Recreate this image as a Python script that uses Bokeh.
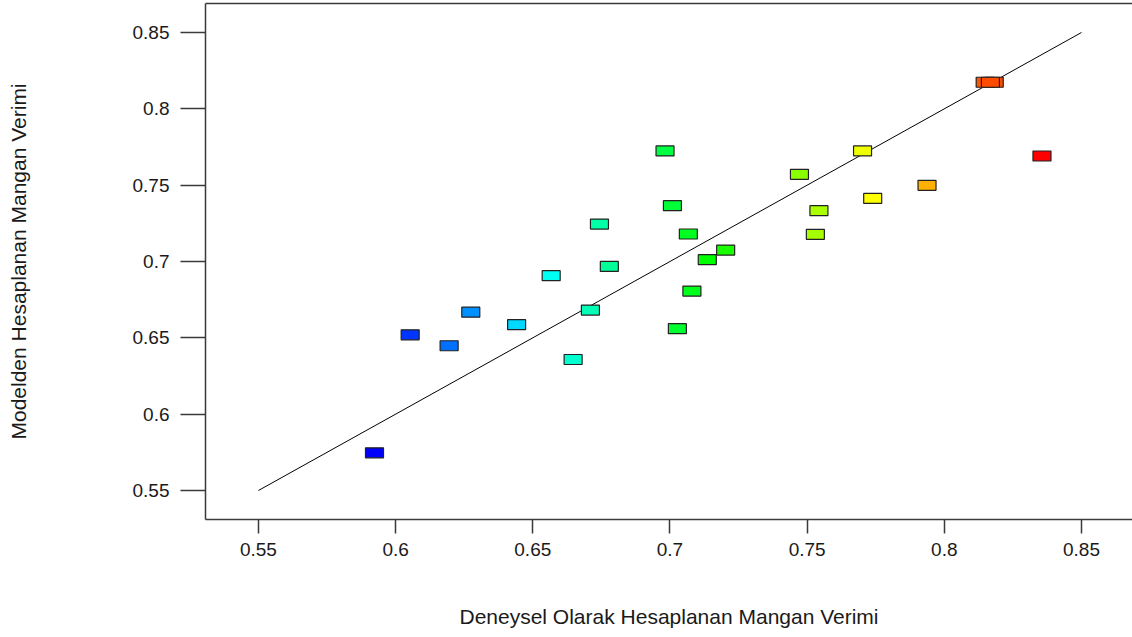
import numpy as np
from bokeh.plotting import figure
from bokeh.models import ColumnDataSource, FixedTicker, LinearAxis, Range1d
from bokeh.transform import linear_cmap
from bokeh.embed import file_html
from bokeh.resources import INLINE

# Data: actual (experimental) vs predicted (model) manganese yield
actual = [0.5923, 0.6053, 0.6195, 0.6274, 0.6441, 0.6567, 0.6647, 0.6710, 0.6743,
          0.6779, 0.6982, 0.7009, 0.7027, 0.7067, 0.7080, 0.7136, 0.7203, 0.7472,
          0.7530, 0.7543, 0.7702, 0.7739, 0.7937, 0.8149, 0.8182, 0.8168, 0.8356]
predicted = [0.5747, 0.6520, 0.6448, 0.6668, 0.6586, 0.6907, 0.6358, 0.6682, 0.7245,
             0.6968, 0.7724, 0.7366, 0.6560, 0.7180, 0.6806, 0.7012, 0.7075, 0.7571,
             0.7178, 0.7333, 0.7724, 0.7413, 0.7499, 0.8174, 0.8174, 0.8174, 0.7691]
ideal_line = [0.55, 0.85]

x_ticks = [0.55, 0.60, 0.65, 0.70, 0.75, 0.80, 0.85]
x_tick_labels = ["0.55", "0.6", "0.65", "0.7", "0.75", "0.8", "0.85"]
y_ticks = [0.55, 0.60, 0.65, 0.70, 0.75, 0.80, 0.85]
y_tick_labels = ["0.55", "0.6", "0.65", "0.7", "0.75", "0.8", "0.85"]

x_title = "Deneysel Olarak Hesaplanan Mangan Verimi"
y_title = "Modelden Hesaplanan Mangan Verimi"

# Rainbow palette (blue -> cyan -> green -> yellow -> red)
stops = np.array([[0, 0, 255], [0, 255, 255], [0, 255, 0], [255, 255, 0], [255, 0, 0]], dtype=float)
pos = np.linspace(0, 1, len(stops))
t = np.linspace(0, 1, 256)
palette = []
for v in t:
    r = np.interp(v, pos, stops[:, 0]); g = np.interp(v, pos, stops[:, 1]); b = np.interp(v, pos, stops[:, 2])
    palette.append("#%02x%02x%02x" % (int(round(r)), int(round(g)), int(round(b))))

FONT = "Liberation Sans"
AXIS_COLOR = "#3a3a3a"
TEXT_COLOR = "#1a1a1a"

p = figure(width=1132, height=637, output_backend="svg", toolbar_location=None,
           x_range=Range1d(0.5307, 0.8686), y_range=Range1d(0.531, 0.869),
           x_axis_label=x_title, y_axis_label=y_title)
p.min_border_left = 205
p.min_border_bottom = 118
p.min_border_top = 3
p.min_border_right = 0
p.outline_line_color = None
p.grid.visible = False
p.background_fill_color = "white"
p.border_fill_color = "white"

src = ColumnDataSource(dict(x=actual, y=predicted))

p.line(ideal_line, ideal_line, line_color="black", line_width=1)
p.rect("x", "y", width=18, height=10, width_units="screen", height_units="screen", source=src,
       fill_color=linear_cmap("x", palette, min(actual), max(actual)),
       line_color="#222222", line_width=1.2)

xa = p.xaxis[0]
xa.ticker = FixedTicker(ticks=x_ticks)
xa.major_label_overrides = {k: v for k, v in zip(x_ticks, x_tick_labels)}
xa.major_tick_out = 14
xa.major_tick_in = 0
xa.minor_tick_line_color = None
xa.major_label_standoff = 9
xa.axis_label_standoff = 46

ya = p.yaxis[0]
ya.ticker = FixedTicker(ticks=y_ticks)
ya.major_label_overrides = {k: v for k, v in zip(y_ticks, y_tick_labels)}
ya.major_tick_out = 25
ya.major_tick_in = 0
ya.minor_tick_line_color = None
ya.major_label_standoff = 11
ya.axis_label_standoff = 100

for ax in (xa, ya):
    ax.axis_line_color = AXIS_COLOR
    ax.axis_line_width = 1.5
    ax.major_tick_line_color = AXIS_COLOR
    ax.major_tick_line_width = 1.5
    ax.major_label_text_font = FONT
    ax.major_label_text_font_size = "19px"
    ax.major_label_text_color = TEXT_COLOR
    ax.axis_label_text_font = FONT
    ax.axis_label_text_font_size = "21px"
    ax.axis_label_text_font_style = "normal"
    ax.axis_label_text_color = TEXT_COLOR

top = LinearAxis(ticker=FixedTicker(ticks=[]), major_label_text_font_size="0px",
                 major_tick_out=0, major_tick_in=0, minor_tick_out=0, minor_tick_in=0,
                 major_label_standoff=0, axis_line_color=AXIS_COLOR, axis_line_width=1.5)
p.add_layout(top, "above")

open("out.html", "w").write(file_html(p, INLINE))
